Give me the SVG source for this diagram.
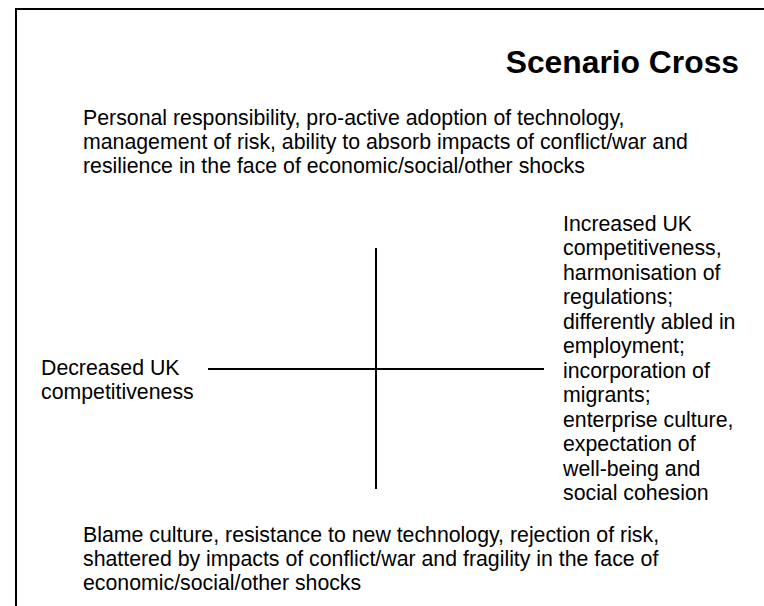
<svg xmlns="http://www.w3.org/2000/svg" width="764" height="606" viewBox="0 0 764 606">
<style>
  text { font-family: "Liberation Sans", Arial, sans-serif; fill: #000; }
  .body { font-size: 21.3px; }
  .title { font-size: 31.8px; font-weight: bold; }
  .axis { stroke: #000; stroke-width: 2; fill: none; }
  .frame { stroke: #000; stroke-width: 2; fill: none; }
</style>
<rect width="764" height="606" fill="#fff"/>
<path class="frame" d="M16,606 V9 H764"/>
<g id="title"><text class="title" x="739" y="73" text-anchor="end">Scenario Cross</text></g>
<g id="connectors">
  <line class="axis" x1="376" y1="248" x2="376" y2="489"/>
  <line class="axis" x1="208" y1="369" x2="544" y2="369"/>
</g>
<g id="top-node">
  <text class="body" x="83" y="125">Personal responsibility, pro-active adoption of technology,</text>
  <text class="body" x="83" y="149">management of risk, ability to absorb impacts of conflict/war and</text>
  <text class="body" x="83" y="173">resilience in the face of economic/social/other shocks</text>
</g>
<g id="left-node">
  <text class="body" x="41" y="375">Decreased UK</text>
  <text class="body" x="41" y="399">competitiveness</text>
</g>
<g id="right-node">
  <text class="body" x="563" y="231">Increased UK</text>
  <text class="body" x="563" y="255">competitiveness,</text>
  <text class="body" x="563" y="280">harmonisation of</text>
  <text class="body" x="563" y="304">regulations;</text>
  <text class="body" x="563" y="329">differently abled in</text>
  <text class="body" x="563" y="353">employment;</text>
  <text class="body" x="563" y="378">incorporation of</text>
  <text class="body" x="563" y="402">migrants;</text>
  <text class="body" x="563" y="427">enterprise culture,</text>
  <text class="body" x="563" y="451">expectation of</text>
  <text class="body" x="563" y="476">well-being and</text>
  <text class="body" x="563" y="500">social cohesion</text>
</g>
<g id="bottom-node">
  <text class="body" x="83" y="542">Blame culture, resistance to new technology, rejection of risk,</text>
  <text class="body" x="83" y="566">shattered by impacts of conflict/war and fragility in the face of</text>
  <text class="body" x="83" y="590">economic/social/other shocks</text>
</g>
</svg>
